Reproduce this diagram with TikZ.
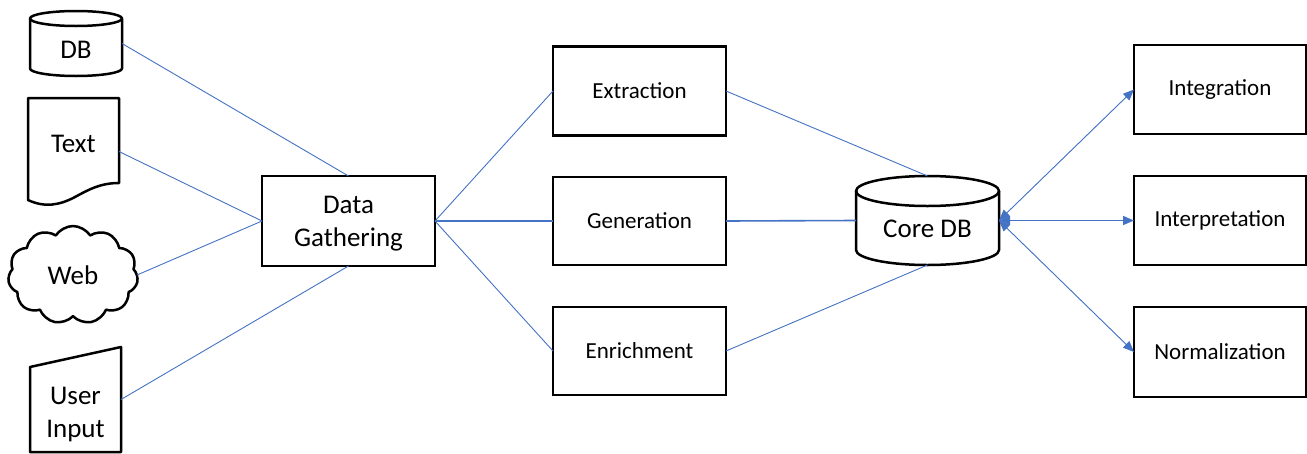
\documentclass[tikz,border=0pt]{standalone}
\usepackage{fontspec}
\setmainfont{Carlito}
\usetikzlibrary{shapes.symbols,arrows.meta}
\definecolor{lnblue}{RGB}{68,114,196}
\begin{document}
\begin{tikzpicture}[x=1pt,y=-1pt,
  box/.style={draw=black,line width=2.5pt,rectangle,inner sep=0pt,outer sep=0pt},
  ghost/.style={inner sep=0pt,outer sep=0pt},
  big/.style={font=\fontsize{27}{33}\selectfont},
  small/.style={font=\fontsize{23}{28}\selectfont},
  shp/.style={draw=black,line width=2.5pt,line join=round},
  thinln/.style={draw=lnblue,line width=0.9pt},
  thickln/.style={draw=lnblue,line width=1.6pt},
  dbl/.style={{Triangle[length=11pt,width=9pt]}-{Triangle[length=11pt,width=9pt]}}]
\useasboundingbox (0,0) rectangle (1307,453);

% left sources
\node[ghost,minimum width=92pt,minimum height=65pt] (db) at (76,43.5) {};
\draw[shp] (30,18.5) -- (30,68.5) arc[start angle=180,end angle=360,x radius=46pt,y radius=7.5pt] -- (122,18.5);
\draw[shp] (76,18.5) ellipse[x radius=46pt,y radius=7.5pt];
\node[big] (dblabel) at (76,50) {DB};

\node[ghost,minimum width=91pt,minimum height=107pt] (txt) at (73.5,151.5) {};
\draw[shp] (28,98) -- (119,98) -- (119,183) .. controls (100,183) and (88,190) .. (75,197) .. controls (60,205) and (45,208) .. (28,200) -- cycle;
\node[big] (txtlabel) at (73.5,144) {Text};

\node[cloud,cloud puffs=11,cloud puff arc=115,aspect=1.35,shp,inner sep=0pt,outer sep=0pt,minimum width=130pt,minimum height=98pt,big] (web) at (73,275) {Web};

\node[ghost,minimum width=91pt,minimum height=105pt] (ui) at (75.5,399.5) {};
\draw[shp] (30,367) -- (121,347) -- (121,452) -- (30,452) -- cycle;
\node[big,align=center] (uilabel) at (75.5,415) {User\\Input};

% main boxes
\node[box,big,align=center,minimum width=173pt,minimum height=90pt] (dg) at (348.5,221) {};
\node[big,align=center] (dglabel) at (348.5,224) {Data\\Gathering};
\node[box,small,minimum width=173pt,minimum height=89pt] (ext) at (639.5,91) {\raisebox{-1.5pt}{Extraction}};
\node[box,small,minimum width=173pt,minimum height=88pt] (gen) at (639.5,221) {\raisebox{-1.5pt}{Generation}};
\node[box,small,minimum width=173pt,minimum height=88pt] (enr) at (639.5,351) {\raisebox{-1.5pt}{Enrichment}};

% core db
\node[ghost,minimum width=143pt,minimum height=89pt] (core) at (927.5,220.5) {};
\draw[shp] (856,191) -- (856,250) arc[start angle=180,end angle=360,x radius=71.5pt,y radius=15pt] -- (999,191);
\draw[shp] (927.5,191) ellipse[x radius=71.5pt,y radius=15pt];
\node[big] (corelabel) at (927.5,228.5) {Core DB};

% right boxes
\node[box,small,minimum width=172pt,minimum height=89pt] (intg) at (1220,89.5) {\raisebox{-2pt}{Integration}};
\node[box,small,minimum width=172pt,minimum height=89pt] (intp) at (1220,220.5) {\raisebox{-2pt}{Interpretation}};
\node[box,small,minimum width=172pt,minimum height=90pt] (norm) at (1220,352) {\raisebox{-1.5pt}{Normalization}};

% connectors
\draw[thinln] (db.east) -- (dg.north);
\draw[thinln] (txt.east) -- (dg.west);
\draw[thinln] (web.east) -- (dg.west);
\draw[thinln] (ui.east) -- (dg.south);
\draw[thinln] (dg.east) -- (ext.west);
\draw[thickln] (dg.east) -- (gen.west);
\draw[thinln] (dg.east) -- (enr.west);
\draw[thinln] (ext.east) -- (core.north);
\draw[thickln] (gen.east) -- (core.west);
\draw[thinln] (enr.east) -- (core.south);
\draw[thinln,dbl,fill=lnblue] (core.east) -- (intg.west);
\draw[thickln,dbl,fill=lnblue] (core.east) -- (intp.west);
\draw[thinln,dbl,fill=lnblue] (core.east) -- (norm.west);
\end{tikzpicture}
\end{document}
